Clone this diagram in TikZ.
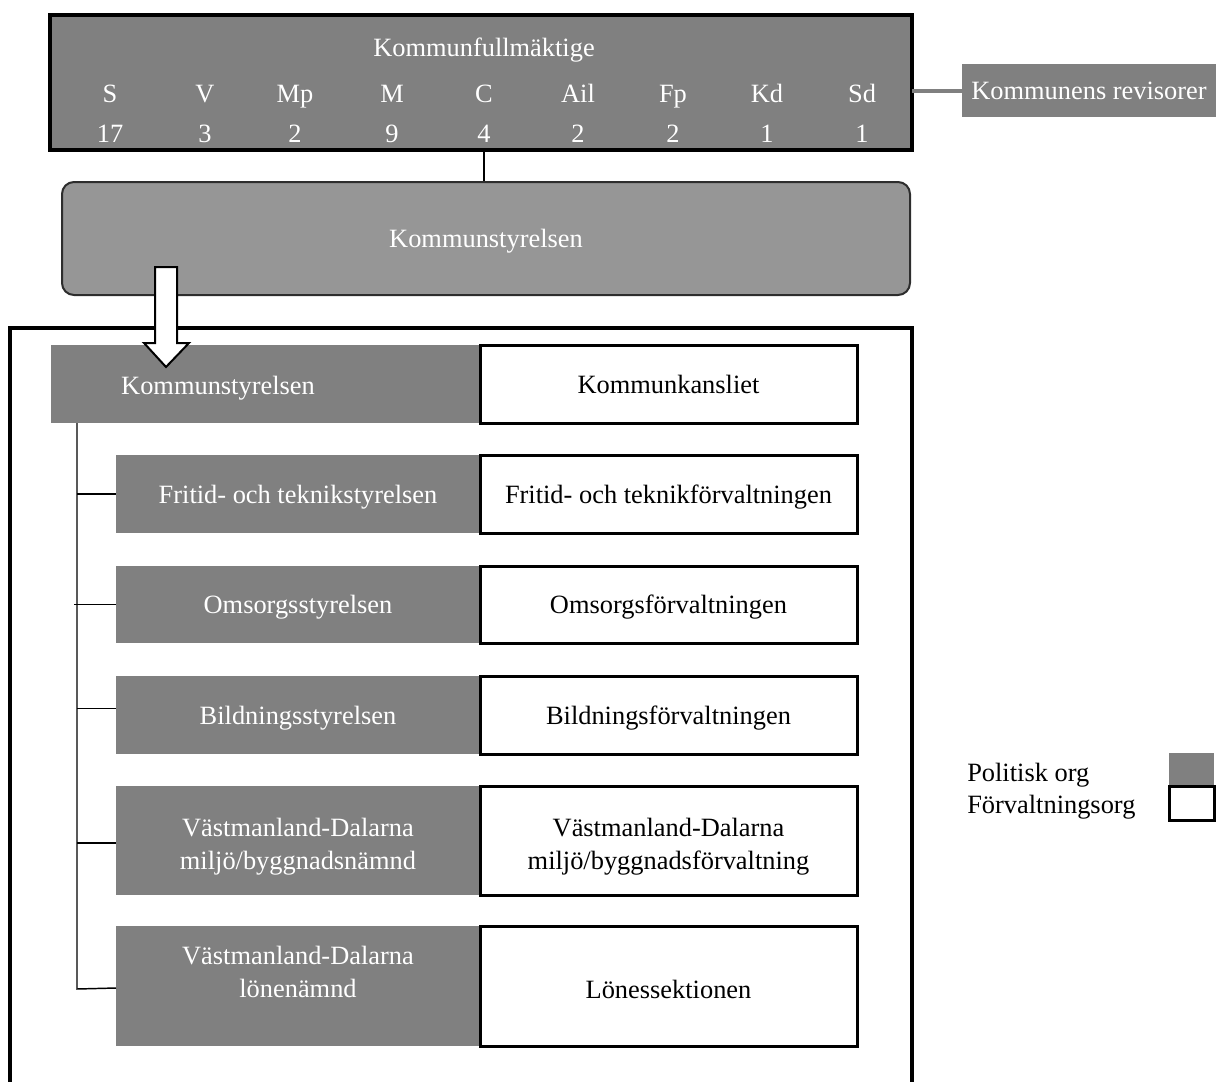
\documentclass[tikz,border=0pt]{standalone}
\usepackage{fontspec}
\setmainfont{Liberation Serif}
\definecolor{polgray}{RGB}{128,128,128}
\definecolor{ksgray}{RGB}{150,150,150}
\definecolor{ksedge}{RGB}{45,45,45}
\newcommand{\pxu}{0.75pt}
\begin{document}
\begin{tikzpicture}[x=0.75pt,y=-0.75pt,
  every node/.style={font=\fontsize{19.8}{24.75}\selectfont},
  oneline/.style={text height=14pt, text depth=0pt},
  polbox/.style={fill=polgray, draw=none, text=white, align=center, inner sep=0pt, outer sep=0pt, oneline},
  forbox/.style={fill=white, draw=black, line width=2.25pt, align=center, inner sep=0pt, outer sep=0pt, oneline},
  lbl/.style={inner sep=0pt, align=center},
  wlbl/.style={lbl, text=white},
  conn/.style={draw=black, line width=1.1pt},
  thickline/.style={draw=black, line width=2.4pt},
  blockarrow/.style={fill=white, draw=black, line width=1.5pt, line join=miter}
]
\useasboundingbox (0,0) rectangle (1216,1081);

% Kommunfullmaktige
\node[polbox, draw=black, line width=2.4pt, minimum width=862*\pxu, minimum height=135*\pxu] (kf) at (481,82.5) {};
\node[wlbl, oneline] (kft) at (484,47) {Kommunfullmäktige};
\foreach \p/\n/\x [count=\i] in {S/17/110, V/3/205, Mp/2/295, M/9/392, C/4/484, Ail/2/578, Fp/2/673, Kd/1/767, Sd/1/862}{
  \node[wlbl, oneline] (p\i) at (\x,93) {\p};
  \node[wlbl, oneline] (n\i) at (\x,133) {\n};
}

% Kommunens revisorer
\node[polbox, minimum width=254*\pxu, minimum height=53*\pxu] (rev) at (1089,90.5) {Kommunens revisorer};
\draw[draw=polgray, line width=3pt] (kf.east |- rev.west) -- (rev.west);

% Kommunstyrelsen (rounded)
\node[draw=ksedge, fill=ksgray, text=white, line width=1.5pt, rounded corners=9pt, inner sep=0pt, oneline,
      minimum width=848*\pxu, minimum height=113*\pxu] (ks) at (486,238.5) {Kommunstyrelsen};
\draw[conn] (kf.south -| n5) -- (ks.north -| n5);

% outer frame (open at bottom)
\draw[thickline] (10,1085) -- (10,328) -- (912,328) -- (912,1085);

% inner Kommunstyrelsen row
\node[polbox, minimum width=429*\pxu, minimum height=78*\pxu] (ksi) at (265.5,384) {};
\node[wlbl, oneline] (ksit) at (218,385) {Kommunstyrelsen};
\node[forbox, minimum width=377*\pxu, minimum height=78*\pxu] (kk) at (668.5,384) {Kommunkansliet};

% rows
\node[polbox, minimum width=364*\pxu, minimum height=78*\pxu] (fr) at (298,494) {Fritid- och teknikstyrelsen};
\node[forbox, minimum width=377*\pxu, minimum height=78*\pxu] (frf) at (668.5,494) {Fritid- och teknikförvaltningen};

\node[polbox, minimum width=364*\pxu, minimum height=77*\pxu] (om) at (298,604.5) {Omsorgsstyrelsen};
\node[forbox, minimum width=377*\pxu, minimum height=77*\pxu] (omf) at (668.5,604.5) {Omsorgsförvaltningen};

\node[polbox, minimum width=364*\pxu, minimum height=78*\pxu] (bi) at (298,715) {Bildningsstyrelsen};
\node[forbox, minimum width=377*\pxu, minimum height=78*\pxu] (bif) at (668.5,715) {Bildningsförvaltningen};

\node[polbox, minimum width=364*\pxu, minimum height=109*\pxu] (mi) at (298,840.5) {};
\node[wlbl] (mit) at (298,847) {Västmanland-Dalarna\\miljö/byggnadsnämnd};
\node[forbox, minimum width=377*\pxu, minimum height=109*\pxu] (mif) at (668.5,840.5) {};
\node[lbl] (mift) at (668.5,847) {Västmanland-Dalarna\\miljö/byggnadsförvaltning};

\node[polbox, minimum width=364*\pxu, minimum height=120*\pxu] (lo) at (298,986) {};
\node[wlbl] (lot) at (298,972) {Västmanland-Dalarna\\lönenämnd};
\node[forbox, minimum width=377*\pxu, minimum height=120*\pxu] (lof) at (668.5,986) {};
\node[lbl, oneline] (loft) at (668.5,989) {Lönessektionen};

% tree connectors
\coordinate (tb) at (77,989);
\draw[conn] (ksi.south -| tb) -- (tb) -- ([yshift=-1.5pt]lo.west);
\draw[conn] (fr.west -| tb) -- (fr.west);
\draw[conn] ([xshift=-2pt]om.west -| tb) -- (om.west);
\draw[conn] ([yshift=5pt]bi.west -| tb) -- ([yshift=5pt]bi.west);
\draw[conn] ([yshift=-2pt]mi.west -| tb) -- ([yshift=-2pt]mi.west);

% block arrow from Kommunstyrelsen down to inner Kommunstyrelsen
\draw[blockarrow] (155,267) -- (177,267) -- (177,343) -- (189,343) -- (166,367) -- (144,343) -- (155,343) -- cycle;

% legend
\node[lbl, oneline, anchor=west] (lg1) at (967,772) {Politisk org};
\node[lbl, oneline, anchor=west] (lg2) at (967,804) {Förvaltningsorg};
\node[polbox, minimum width=45*\pxu, minimum height=32*\pxu] (lgp) at (1191.5,769) {};
\node[forbox, minimum width=45*\pxu, minimum height=34*\pxu] (lgf) at (1191.5,803) {};
\end{tikzpicture}
\end{document}
